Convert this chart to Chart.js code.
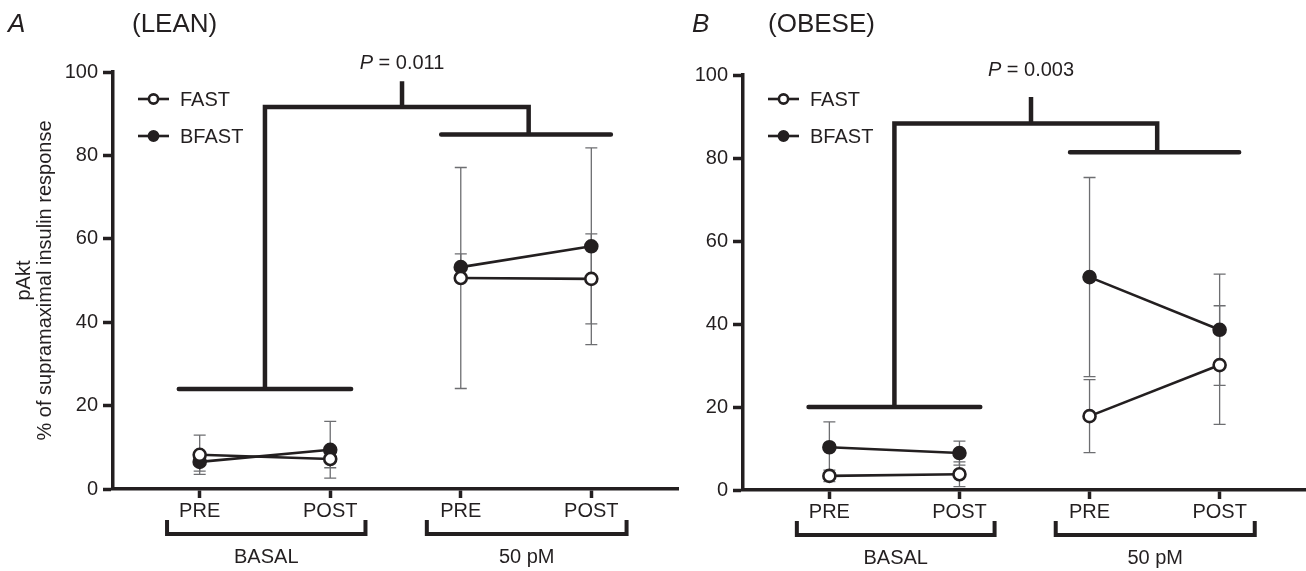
<!DOCTYPE html>
<html>
<head>
<meta charset="utf-8">
<script src="https://cdn.jsdelivr.net/npm/chart.js@4.4.1/dist/chart.umd.min.js"></script>
<style>
  html, body { margin: 0; padding: 0; background: #fff; }
  #wrap { position: relative; width: 1306px; height: 571px; overflow: hidden; }
  canvas { position: absolute; top: 0; }
  #lean { left: 0; }
  #obese { left: 690px; }
</style>
</head>
<body>
<div id="wrap">
  <canvas id="lean" width="690" height="571"></canvas>
  <canvas id="obese" width="616" height="571"></canvas>
</div>
<script>
// pAkt (% of supramaximal insulin response), mean +/- error
const xLabels = ['PRE', 'POST', 'PRE', 'POST'];
const groupLabels = ['BASAL', '50 pM'];
const yTicks = [0, 20, 40, 60, 80, 100];
const yTitle = ['pAkt', '% of supramaximal insulin response'];

const leanFast = [8.2, 7.2, 50.6, 50.4];
const leanFastErr = [4.7, 2.1, 26.5, 10.8];
const leanBfast = [6.5, 9.4, 53.2, 58.2];
const leanBfastErr = [2.2, 6.8, 3.2, 23.6];

const obeseFast = [3.4, 3.8, 17.8, 30.1];
const obeseFastErr = [1.4, 3.0, 8.8, 14.3];
const obeseBfast = [10.3, 8.9, 51.3, 38.6];
const obeseBfastErr = [6.1, 2.9, 24.0, 13.4];

// significance bracket levels (y values) and P values
const leanSig = [24, 85, 91.6, 97.8];
const obeseSig = [20, 81.4, 88.3, 94.7];
const leanP = '0.011';
const obeseP = '0.003';

const INK = '#231f20';
const ERR = '#6d6e71';
const FONT = "'Liberation Sans', Arial, Helvetica, sans-serif";

function series(values, err, filled) {
  return {
    data: values.map((v, i) => ({ x: i + 1, y: v })),
    err,
    borderColor: INK,
    borderWidth: 2.6,
    pointRadius: 6,
    pointHoverRadius: 6,
    pointBorderWidth: 2.6,
    pointBorderColor: INK,
    pointBackgroundColor: filled ? INK : '#fff',
    segment: { borderColor: c => (c.p0DataIndex === 1 ? 'rgba(0,0,0,0)' : INK) },
    tension: 0,
  };
}

const panelDeco = {
  id: 'panelDeco',
  beforeDatasetsDraw(chart) {
    const { ctx, scales: { x, y } } = chart;
    ctx.save();
    ctx.strokeStyle = ERR;
    ctx.lineWidth = 1.3;
    chart.data.datasets.forEach(ds => {
      ds.data.forEach((p, i) => {
        const px = x.getPixelForValue(p.x);
        const lo = y.getPixelForValue(p.y - ds.err[i]);
        const hi = y.getPixelForValue(p.y + ds.err[i]);
        ctx.beginPath();
        ctx.moveTo(px, lo); ctx.lineTo(px, hi);
        ctx.moveTo(px - 6, lo); ctx.lineTo(px + 6, lo);
        ctx.moveTo(px - 6, hi); ctx.lineTo(px + 6, hi);
        ctx.stroke();
      });
    });
    ctx.restore();
  },
  afterDraw(chart, args, o) {
    const { ctx, chartArea: ca, scales: { x, y } } = chart;
    const X = v => x.getPixelForValue(v);
    const Y = v => y.getPixelForValue(v);
    const [low, high, join, top] = o.sig;
    ctx.save();
    ctx.strokeStyle = INK;
    ctx.fillStyle = INK;
    ctx.lineWidth = 4.5;
    ctx.lineJoin = 'miter';
    ctx.lineCap = 'round';

    // significance brackets
    ctx.beginPath();
    ctx.moveTo(X(0.84), Y(low)); ctx.lineTo(X(2.16), Y(low));
    ctx.moveTo(X(2.85), Y(high)); ctx.lineTo(X(4.15), Y(high));
    ctx.stroke();
    ctx.lineCap = 'butt';
    ctx.beginPath();
    ctx.moveTo(X(1.5), Y(low));
    ctx.lineTo(X(1.5), Y(join));
    ctx.lineTo(X(3.52), Y(join));
    ctx.lineTo(X(3.52), Y(high));
    ctx.moveTo(X(2.55), Y(join));
    ctx.lineTo(X(2.55), Y(top));
    ctx.stroke();

    // P value label
    ctx.textBaseline = 'middle';
    const rest = ' = ' + o.p;
    ctx.font = '20px ' + FONT;
    const wRest = ctx.measureText(rest).width;
    ctx.font = 'italic 20px ' + FONT;
    const wP = ctx.measureText('P').width;
    const tx = X(2.55) - (wP + wRest) / 2;
    const ty = Y(top) - o.pGap;
    ctx.textAlign = 'left';
    ctx.fillText('P', tx, ty);
    ctx.font = '20px ' + FONT;
    ctx.fillText(rest, tx + wP, ty);

    // panel letter and title
    ctx.font = 'italic 26px ' + FONT;
    ctx.fillText(o.letter, o.letterX, 25);
    ctx.font = '26px ' + FONT;
    ctx.fillText(o.title, ca.left + o.titleDx, 25);

    // y axis title (two lines, rotated)
    if (o.yTitle) {
      ctx.save();
      ctx.font = '20px ' + FONT;
      ctx.textAlign = 'center';
      o.yTitle.forEach((line, i) => {
        ctx.save();
        ctx.translate(o.yTitleX[i], (ca.top + ca.bottom) / 2);
        ctx.rotate(-Math.PI / 2);
        ctx.fillText(line, 0, 0);
        ctx.restore();
      });
      ctx.restore();
    }

    // legend
    ctx.lineWidth = 2.6;
    ctx.font = '20px ' + FONT;
    [['FAST', false, 99], ['BFAST', true, 136]].forEach(([txt, filled, ly]) => {
      const lx = ca.left + 25;
      ctx.beginPath();
      ctx.moveTo(lx, ly); ctx.lineTo(lx + 31, ly);
      ctx.stroke();
      ctx.beginPath();
      ctx.arc(lx + 15.5, ly, 4.6, 0, Math.PI * 2);
      ctx.fillStyle = filled ? INK : '#fff';
      ctx.fill();
      ctx.stroke();
      ctx.fillStyle = INK;
      ctx.fillText(txt, lx + 42, ly + 1);
    });

    // group brackets under the category labels
    ctx.lineWidth = 4;
    ctx.lineJoin = 'miter';
    ctx.lineCap = 'butt';
    ctx.textAlign = 'center';
    [[0.75, 2.27], [2.74, 4.27]].forEach(([a, b], g) => {
      const yTop = ca.bottom + 31, yBot = ca.bottom + 45;
      ctx.beginPath();
      ctx.moveTo(X(a), yTop); ctx.lineTo(X(a), yBot);
      ctx.lineTo(X(b), yBot); ctx.lineTo(X(b), yTop);
      ctx.stroke();
      ctx.fillText(groupLabels[g], X((a + b) / 2), ca.bottom + 68);
    });
    ctx.restore();
  }
};

function panel(id, fast, fastErr, bfast, bfastErr, deco, yWidth, xHeight, padTop, padRight) {
  return new Chart(document.getElementById(id), {
    type: 'line',
    data: { datasets: [series(fast, fastErr, false), series(bfast, bfastErr, true)] },
    plugins: [panelDeco],
    options: {
      responsive: false,
      animation: false,
      events: [],
      layout: { autoPadding: false, padding: { top: padTop, right: padRight, left: 0, bottom: 0 } },
      plugins: { legend: { display: false }, tooltip: { enabled: false }, panelDeco: deco },
      scales: {
        x: {
          type: 'linear',
          min: 0.336,
          max: 4.664,
          afterBuildTicks: s => { s.ticks = xLabels.map((_, i) => ({ value: i + 1 })); },
          afterFit: s => { s.height = xHeight; s.paddingLeft = 0; s.paddingRight = 0; },
          ticks: {
            callback: v => xLabels[v - 1],
            color: INK,
            font: { family: FONT, size: 20 },
            padding: 1,
            maxRotation: 0,
            autoSkip: false,
          },
          grid: { drawOnChartArea: false, tickLength: 9, tickWidth: 3.5, tickColor: INK },
          border: { display: true, color: INK, width: 3.5 },
        },
        y: {
          min: 0,
          max: 100,
          afterBuildTicks: s => { s.ticks = yTicks.map(v => ({ value: v })); },
          afterFit: s => { s.width = yWidth; },
          ticks: { color: INK, font: { family: FONT, size: 20 }, padding: 5 },
          grid: { drawOnChartArea: false, tickLength: 10, tickWidth: 3.5, tickColor: INK },
          border: { display: true, color: INK, width: 3.5 },
        },
      },
    },
  });
}

panel('lean', leanFast, leanFastErr, leanBfast, leanBfastErr,
  { sig: leanSig, p: leanP, pGap: 18, letter: 'A', letterX: 8, title: '(LEAN)', titleDx: 19,
    yTitle, yTitleX: [24, 45] },
  113, 82, 72, 12);

panel('obese', obeseFast, obeseFastErr, obeseBfast, obeseBfastErr,
  { sig: obeseSig, p: obeseP, pGap: 27, letter: 'B', letterX: 2, title: '(OBESE)', titleDx: 25 },
  53, 81, 75, 0);
</script>
</body>
</html>
